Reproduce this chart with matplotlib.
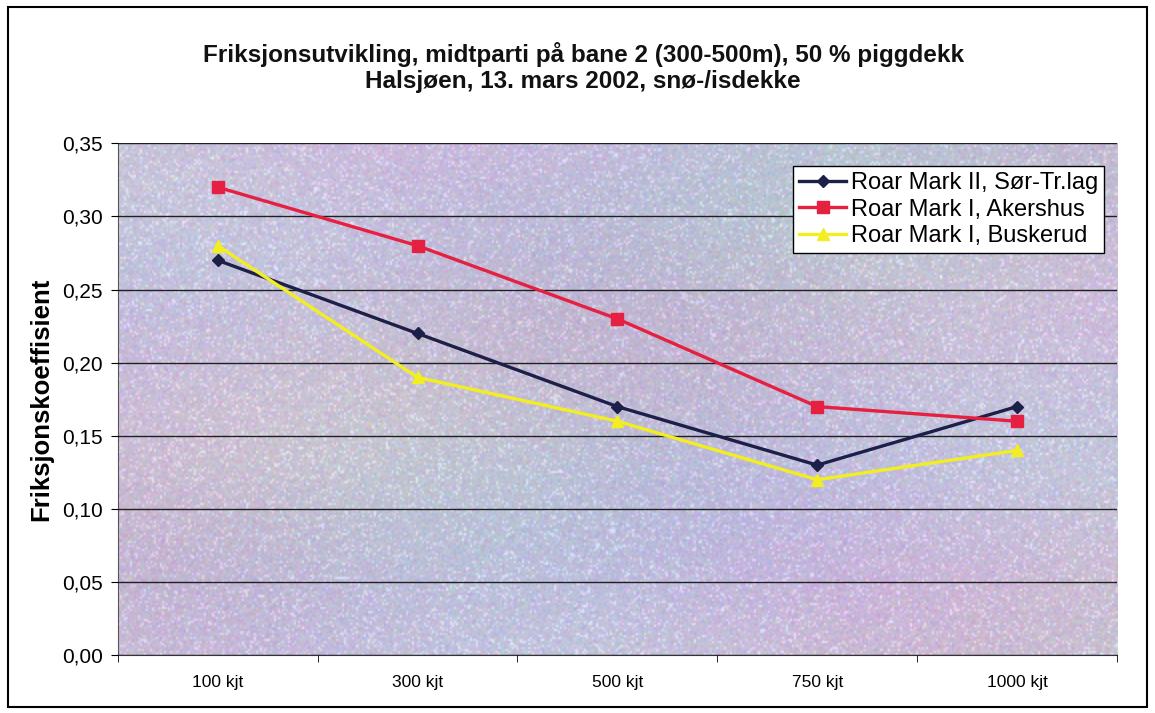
import matplotlib
matplotlib.use("Agg")
import matplotlib.pyplot as plt
import numpy as np
from matplotlib.patches import Rectangle
from matplotlib.ticker import FuncFormatter

plt.rcParams['font.family'] = ['Liberation Sans', 'DejaVu Sans']

kategorier = ["100 kjt", "300 kjt", "500 kjt", "750 kjt", "1000 kjt"]
sor_trlag = [0.27, 0.22, 0.17, 0.13, 0.17]
akershus = [0.32, 0.28, 0.23, 0.17, 0.16]
buskerud = [0.28, 0.19, 0.16, 0.12, 0.14]

fig = plt.figure(figsize=(11.55, 7.13), dpi=100)
fig.patch.set_facecolor("white")
fig.add_artist(Rectangle((0.007, 0.008), 0.986, 0.982, transform=fig.transFigure,
                         fill=False, edgecolor="black", linewidth=1.5))

ax = fig.add_axes([0.102, 0.081, 0.865, 0.718])

# grainy lavender-grey fill of the plot area
rng = np.random.default_rng(7)
gy, gx = np.mgrid[0:1:256j, 0:1:500j]
r = 0.76 + 0.02 * np.sin(7 * gx + 2 * gy) + 0.015 * np.cos(11 * gy + 3 * gx)
g = 0.74 + 0.02 * np.cos(9 * gx - 4 * gy) + 0.01 * np.sin(13 * gy)
b = 0.84 + 0.02 * np.sin(6 * gy + 5 * gx)
bg = np.dstack([r, g, b]) + rng.normal(0, 0.035, (256, 500, 3))
bg += 0.12 * (rng.random((256, 500, 1)) > 0.9)
bg = np.clip(bg, 0, 1)
ax.imshow(bg, extent=[-0.5, 4.5, 0, 0.35], aspect="auto", zorder=0, interpolation="bilinear")

x = np.arange(len(kategorier))
ax.plot(x, sor_trlag, color="#1c2048", marker="D", markersize=6, linewidth=2.4,
        label="Roar Mark II, Sør-Tr.lag", zorder=3)
ax.plot(x, akershus, color="#e62040", marker="s", markersize=8, linewidth=2.4,
        label="Roar Mark I, Akershus", zorder=3)
ax.plot(x, buskerud, color="#f2ee22", marker="^", markersize=8, linewidth=2.4,
        label="Roar Mark I, Buskerud", zorder=3)

ax.set_xlim(-0.5, 4.5)
ax.set_ylim(0, 0.35)
ax.set_yticks(np.arange(0, 0.351, 0.05))
ax.yaxis.set_major_formatter(FuncFormatter(lambda v, p: f"{v:.2f}".replace(".", ",")))
ax.set_xticks(x)
ax.set_xticklabels(kategorier)
ax.set_xticks(np.arange(-0.5, 4.6, 1), minor=True)
ax.tick_params(axis="x", which="major", length=0, pad=14, labelsize=12.5)
ax.tick_params(axis="x", which="minor", length=5)
ax.tick_params(axis="y", length=5, labelsize=15, pad=6)
ax.grid(axis="y", color="#202020", linewidth=1.0, zorder=1)
ax.set_axisbelow(False)
for s in ["top", "right"]:
    ax.spines[s].set_visible(False)
ax.spines["left"].set_color("#555555")
ax.spines["bottom"].set_color("#333333")

ax.set_ylabel("Friksjonskoeffisient", fontsize=18.5, fontweight="bold", labelpad=6)

fig.text(0.505, 0.924, "Friksjonsutvikling, midtparti på bane 2 (300-500m), 50 % piggdekk",
         ha="center", va="center", fontsize=17.5, fontweight="bold", color="#111111")
fig.text(0.505, 0.885, "Halsjøen, 13. mars 2002, snø-/isdekke",
         ha="center", va="center", fontsize=17.5, fontweight="bold", color="#111111")

leg = ax.legend(loc="upper right", bbox_to_anchor=(0.992, 0.965), fontsize=17,
                frameon=True, fancybox=False, edgecolor="black", framealpha=1,
                handlelength=2.0, handletextpad=0.2, borderpad=0.25, labelspacing=0.2,
                borderaxespad=0.2)
leg.get_frame().set_linewidth(1.0)

fig.savefig("out.png", dpi=100)
